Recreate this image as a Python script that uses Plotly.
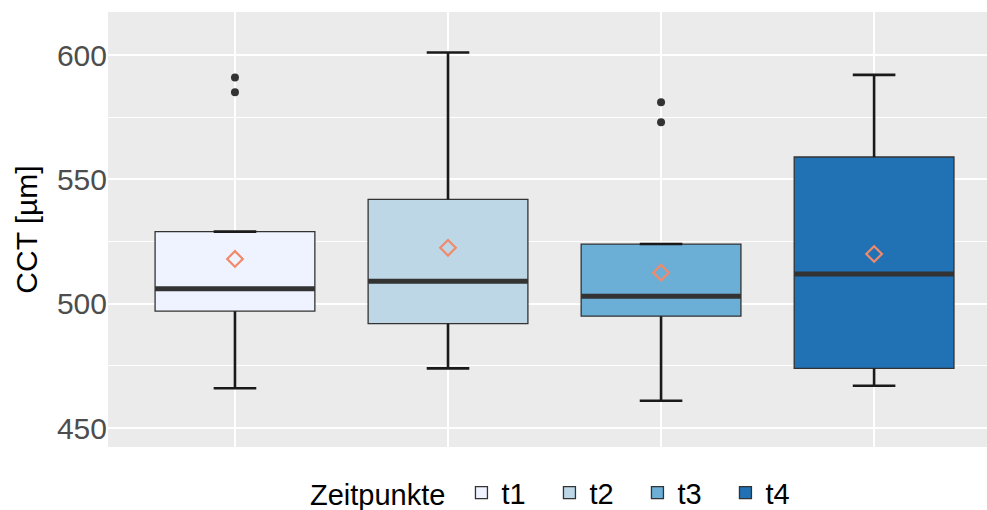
import plotly.graph_objects as go

# ---- data ----
groups = ["t1", "t2", "t3", "t4"]
q1 = [497, 492, 495, 474]
median = [506, 509, 503, 512]
q3 = [529, 542, 524, 559]
lower = [466, 474, 461, 467]
upper = [529, 601, 524, 592]
means = [518, 522.5, 512.5, 520]
outliers = [[585, 591], [], [573, 581], []]
fill_colors = ["#EFF3FF", "#BDD7E7", "#6BAED6", "#2171B5"]

positions = [1, 2, 3, 4]
BOX_W = 0.75
CAP_W = 0.2
FONT = "Liberation Sans, Arial, sans-serif"

fig = go.Figure()

for i, g in enumerate(groups):
    fig.add_trace(go.Box(
        x=[positions[i]], q1=[q1[i]], median=[median[i]], q3=[q3[i]],
        lowerfence=[q1[i]], upperfence=[q3[i]],
        name=g, width=BOX_W, fillcolor=fill_colors[i],
        line=dict(color="#333333", width=1.3), boxpoints=False,
        whiskerwidth=0, hoverinfo="skip",
    ))

# whiskers
wx, wy = [], []
for i in range(len(groups)):
    p = positions[i]
    wx += [p, p, None, p, p, None]
    wy += [q1[i], lower[i], None, q3[i], upper[i], None]
fig.add_trace(go.Scatter(x=wx, y=wy, mode="lines", line=dict(color="#1a1a1a", width=2.6),
                         showlegend=False, hoverinfo="skip"))

# caps
cx, cy = [], []
for i in range(len(groups)):
    p = positions[i]
    for v in (lower[i], upper[i]):
        cx += [p - CAP_W / 2, p + CAP_W / 2, None]
        cy += [v, v, None]
fig.add_trace(go.Scatter(x=cx, y=cy, mode="lines", line=dict(color="#1a1a1a", width=2.6),
                         showlegend=False, hoverinfo="skip"))

# medians
mx, my = [], []
for i in range(len(groups)):
    p = positions[i]
    mx += [p - BOX_W / 2, p + BOX_W / 2, None]
    my += [median[i], median[i], None]
fig.add_trace(go.Scatter(x=mx, y=my, mode="lines", line=dict(color="#333333", width=5),
                         showlegend=False, hoverinfo="skip"))

# outliers
ox, oy = [], []
for i in range(len(groups)):
    for v in outliers[i]:
        ox.append(positions[i])
        oy.append(v)
fig.add_trace(go.Scatter(x=ox, y=oy, mode="markers",
                         marker=dict(color="#333333", size=8),
                         showlegend=False, hoverinfo="skip"))

# means
fig.add_trace(go.Scatter(x=positions, y=means, mode="markers",
                         marker=dict(symbol="diamond-open", color="#F08A6A", size=12,
                                     line=dict(width=2.2, color="#F08A6A")),
                         showlegend=False, hoverinfo="skip"))

fig.update_layout(
    width=987, height=510,
    margin=dict(l=108, r=0, t=12, b=63, autoexpand=False),
    paper_bgcolor="white", plot_bgcolor="#EBEBEB",
    font=dict(family=FONT, size=29, color="black"),
    legend=dict(orientation="h", x=0.2275, xanchor="left", y=-0.105, yanchor="middle",
                title=dict(text="Zeitpunkte ", side="left", font=dict(size=29)),
                font=dict(size=29), traceorder="normal", itemwidth=30, entrywidth=43),
    xaxis=dict(range=[0.404, 4.53], tickvals=positions, showticklabels=False,
               showgrid=True, gridcolor="white", gridwidth=1.5, zeroline=False,
               showline=False, ticks=""),
    yaxis=dict(range=[442.4, 617.3], tickvals=[450, 500, 550, 600],
               showgrid=True, gridcolor="white", gridwidth=1.5, zeroline=False,
               tickfont=dict(size=30, color="#4D4D4D"), ticks="",
               title=dict(text="CCT [µm]", font=dict(size=30, color="black"), standoff=10),
               minor=dict(tickvals=[475, 525, 575], showgrid=True, gridcolor="white", gridwidth=0.8)),
)

fig.write_html("out.html", config={"displayModeBar": False})

with open("out.html", encoding="utf-8") as f:
    html = f.read()
html = html.replace("<head>", "<head><style>html,body{margin:0;padding:0;}</style>", 1)
with open("out.html", "w", encoding="utf-8") as f:
    f.write(html)
